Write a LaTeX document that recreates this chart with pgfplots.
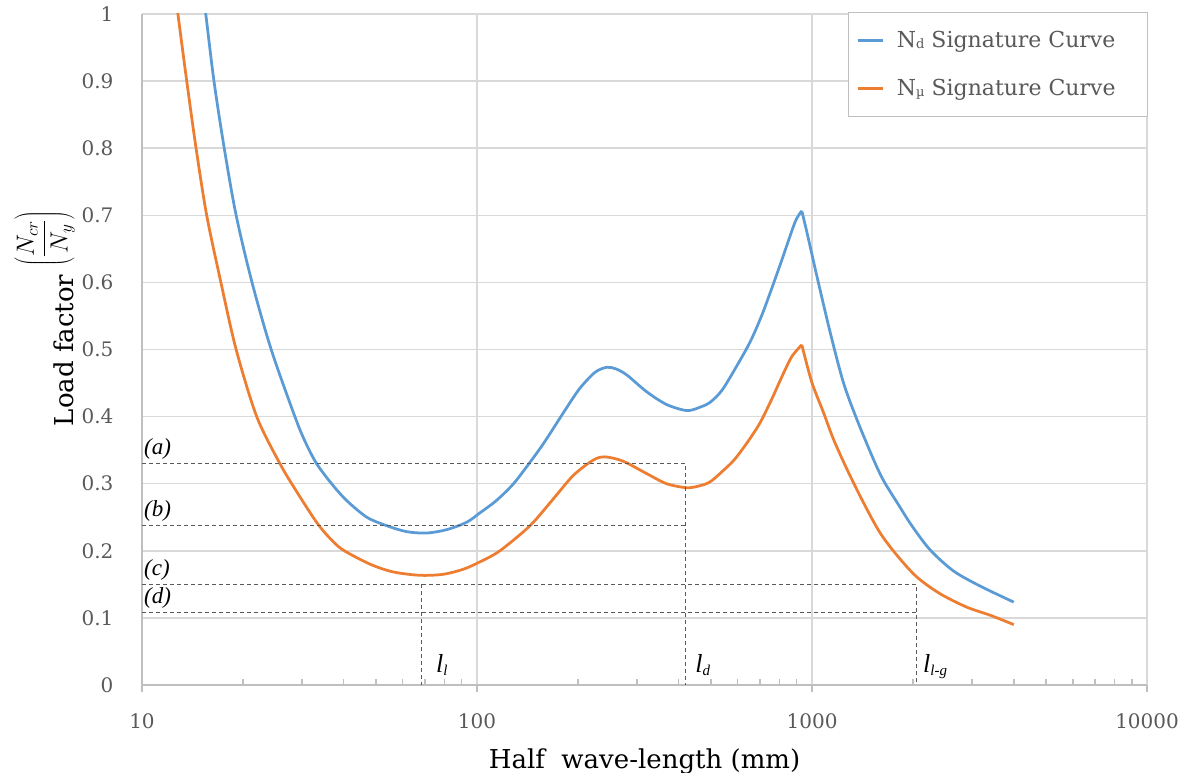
\documentclass[border=0pt]{standalone}
\usepackage{fontspec}
\setmainfont{DejaVu Serif}
\newfontfamily\annot{Liberation Serif}
\usepackage{pgfplots}
\usepackage{pgfplotstable}
\pgfplotsset{compat=1.18}
\definecolor{ndblue}{HTML}{5B9BD5}
\definecolor{nuorange}{HTML}{ED7D31}
\definecolor{gridgray}{HTML}{D9D9D9}
\definecolor{axgray}{HTML}{BFBFBF}
\definecolor{txtgray}{HTML}{595959}
\definecolor{dashgray}{HTML}{595959}

% N_d signature curve, split at the cusp
\pgfplotstableread{
x y
14.8 1.08
15.5 1.00
16.4 0.90
17.6 0.80
19.1 0.70
21.3 0.60
24.3 0.50
28.6 0.40
30.7 0.3625
33.2 0.33
36.8 0.30
40.8 0.275
46.9 0.25
53.7 0.2375
61.7 0.2285
70.8 0.2265
81.2 0.2315
93.1 0.2425
102 0.2565
114 0.2745
128 0.299
142 0.328
156 0.356
169 0.3825
185 0.413
203 0.4425
225 0.466
244 0.4735
260 0.471
280 0.462
321 0.437
368 0.418
423 0.409
463 0.414
497 0.4215
538 0.439
589 0.471
653 0.511
708 0.551
758 0.591
812 0.633
890 0.690
932 0.7065
}\ndL
\pgfplotstableread{
x y
932 0.7065
965 0.675
1033 0.61
1132 0.526
1240 0.451
1359 0.3965
1523 0.337
1633 0.305
1791 0.2725
1985 0.2375
2250 0.2015
2642 0.170
3173 0.1475
4000 0.1235
}\ndR

% N_mu signature curve, split at the cusp
\pgfplotstableread{
x y
12.3 1.07
12.8 1.00
13.6 0.90
14.5 0.80
15.6 0.70
17.2 0.60
19.1 0.50
22.0 0.40
25.8 0.33
28.8 0.29
33.2 0.2425
36.5 0.218
39.9 0.201
48.0 0.18
56.2 0.1685
67.6 0.1635
79.3 0.165
91.0 0.1725
102 0.1835
117 0.20
144 0.2375
169 0.2775
194 0.3125
222 0.335
241 0.340
273 0.3335
321 0.315
368 0.300
423 0.294
463 0.297
497 0.303
543 0.3195
589 0.337
646 0.364
700 0.391
758 0.426
812 0.459
869 0.489
932 0.507
}\nmuL
\pgfplotstableread{
x y
932 0.507
998 0.4515
1081 0.4065
1158 0.3665
1270 0.322
1423 0.272
1595 0.227
1791 0.1935
2054 0.161
2411 0.136
2897 0.116
3400 0.104
4000 0.090
}\nmuR

\begin{document}
\begin{tikzpicture}
\useasboundingbox (-142pt,-88pt) rectangle (1050pt,685pt);
\begin{axis}[
  scale only axis, width=1005pt, height=671pt,
  xmode=log, xmin=10, xmax=10000, ymin=0, ymax=1,
  axis x line*=bottom, axis y line*=left,
  axis line style={axgray, line width=1.5pt},
  xtick={10,100,1000,10000}, xticklabels={10,100,1000,10000},
  minor xtick={20,30,40,50,60,70,80,90,200,300,400,500,600,700,800,900,2000,3000,4000,5000,6000,7000,8000,9000},
  ytick={0,0.1,0.2,0.3,0.4,0.5,0.6,0.7,0.8,0.9,1},
  yticklabels={0,0.1,0.2,0.3,0.4,0.5,0.6,0.7,0.8,0.9,1},
  tick align=inside, major tick length=7pt, minor tick length=6pt,
  xtick style={axgray, line width=1.5pt},
  every major tick/.append style={yshift=-7pt},
  ytick style={draw=none},
  xmajorgrids, ymajorgrids,
  major grid style={gridgray, line width=1.5pt},
  ticklabel style={font=\fontsize{20}{24}\selectfont, text=txtgray},
  xticklabel shift=25pt, yticklabel shift=25pt,
  xlabel={Half\ \ wave-length (mm)},
  xlabel style={font=\fontsize{26}{30}\selectfont, yshift=-13pt},
  ylabel={Load factor \raisebox{23pt}{$\left(\displaystyle\frac{N_{cr}}{N_y}\right)$}},
  ylabel style={font=\fontsize{26}{30}\selectfont, at={(ticklabel cs:0.546)}},
  legend cell align=left,
  legend style={at={(rel axis cs:1.001,1.003)}, anchor=north east,
    draw=axgray, line width=1pt, font=\fontsize{22}{26}\selectfont,
    text=txtgray, row sep=26pt, inner xsep=8pt, inner ysep=17pt},
  legend image code/.code={\draw[#1] (0pt,0pt) -- (25pt,0pt);},
]
\addplot[ndblue, line width=2.75pt, smooth, tension=0.5] table {\ndL};
\addlegendentry{\hspace{11pt}N\raisebox{-1pt}{\fontsize{13}{13}\selectfont d} Signature Curve\rule{22pt}{0pt}}
\addplot[nuorange, line width=2.75pt, smooth, tension=0.5] table {\nmuL};
\addlegendentry{\hspace{11pt}N\raisebox{-1pt}{\fontsize{13}{13}\selectfont µ} Signature Curve\rule{22pt}{0pt}}

\pgfplotsset{every axis plot/.append style={forget plot}}
\addplot[ndblue, line width=2.75pt, smooth, tension=0.5] table {\ndR};
\addplot[nuorange, line width=2.75pt, smooth, tension=0.5] table {\nmuR};

\addplot[dashgray, line width=1.1pt, dash pattern=on 4pt off 3pt] coordinates {(10,0.33) (418,0.33) (418,0)};
\addplot[dashgray, line width=1.1pt, dash pattern=on 4pt off 3pt] coordinates {(10,0.2375) (418,0.2375)};
\addplot[dashgray, line width=1.1pt, dash pattern=on 4pt off 3pt] coordinates {(10,0.15) (2050,0.15) (2050,0)};
\addplot[dashgray, line width=1.1pt, dash pattern=on 4pt off 3pt] coordinates {(10,0.108) (2050,0.108)};
\addplot[dashgray, line width=1.1pt, dash pattern=on 4pt off 3pt] coordinates {(68.4,0.15) (68.4,0)};

\node[anchor=south west, inner sep=0pt, xshift=2pt, yshift=4pt, font=\annot\itshape\fontsize{23}{26}\selectfont] at (axis cs:10,0.33) {(a)};
\node[anchor=south west, inner sep=0pt, xshift=2pt, yshift=4pt, font=\annot\itshape\fontsize{23}{26}\selectfont] at (axis cs:10,0.2375) {(b)};
\node[anchor=south west, inner sep=0pt, xshift=2pt, yshift=4pt, font=\annot\itshape\fontsize{23}{26}\selectfont] at (axis cs:10,0.15) {(c)};
\node[anchor=south west, inner sep=0pt, xshift=2pt, yshift=4pt, font=\annot\itshape\fontsize{23}{26}\selectfont] at (axis cs:10,0.108) {(d)};
\node[anchor=base west, inner sep=0pt, font=\annot\itshape\fontsize{26}{28}\selectfont] at (axis cs:75.4,0.018) {l\raisebox{-3pt}{\fontsize{15}{15}\selectfont l}};
\node[anchor=base west, inner sep=0pt, font=\annot\itshape\fontsize{26}{28}\selectfont] at (axis cs:448,0.018) {l\raisebox{-3pt}{\fontsize{15}{15}\selectfont d}};
\node[anchor=base west, inner sep=0pt, font=\annot\itshape\fontsize{26}{28}\selectfont] at (axis cs:2143,0.018) {l\raisebox{-3pt}{\fontsize{15}{15}\selectfont l-g}};
\end{axis}
\end{tikzpicture}
\end{document}
